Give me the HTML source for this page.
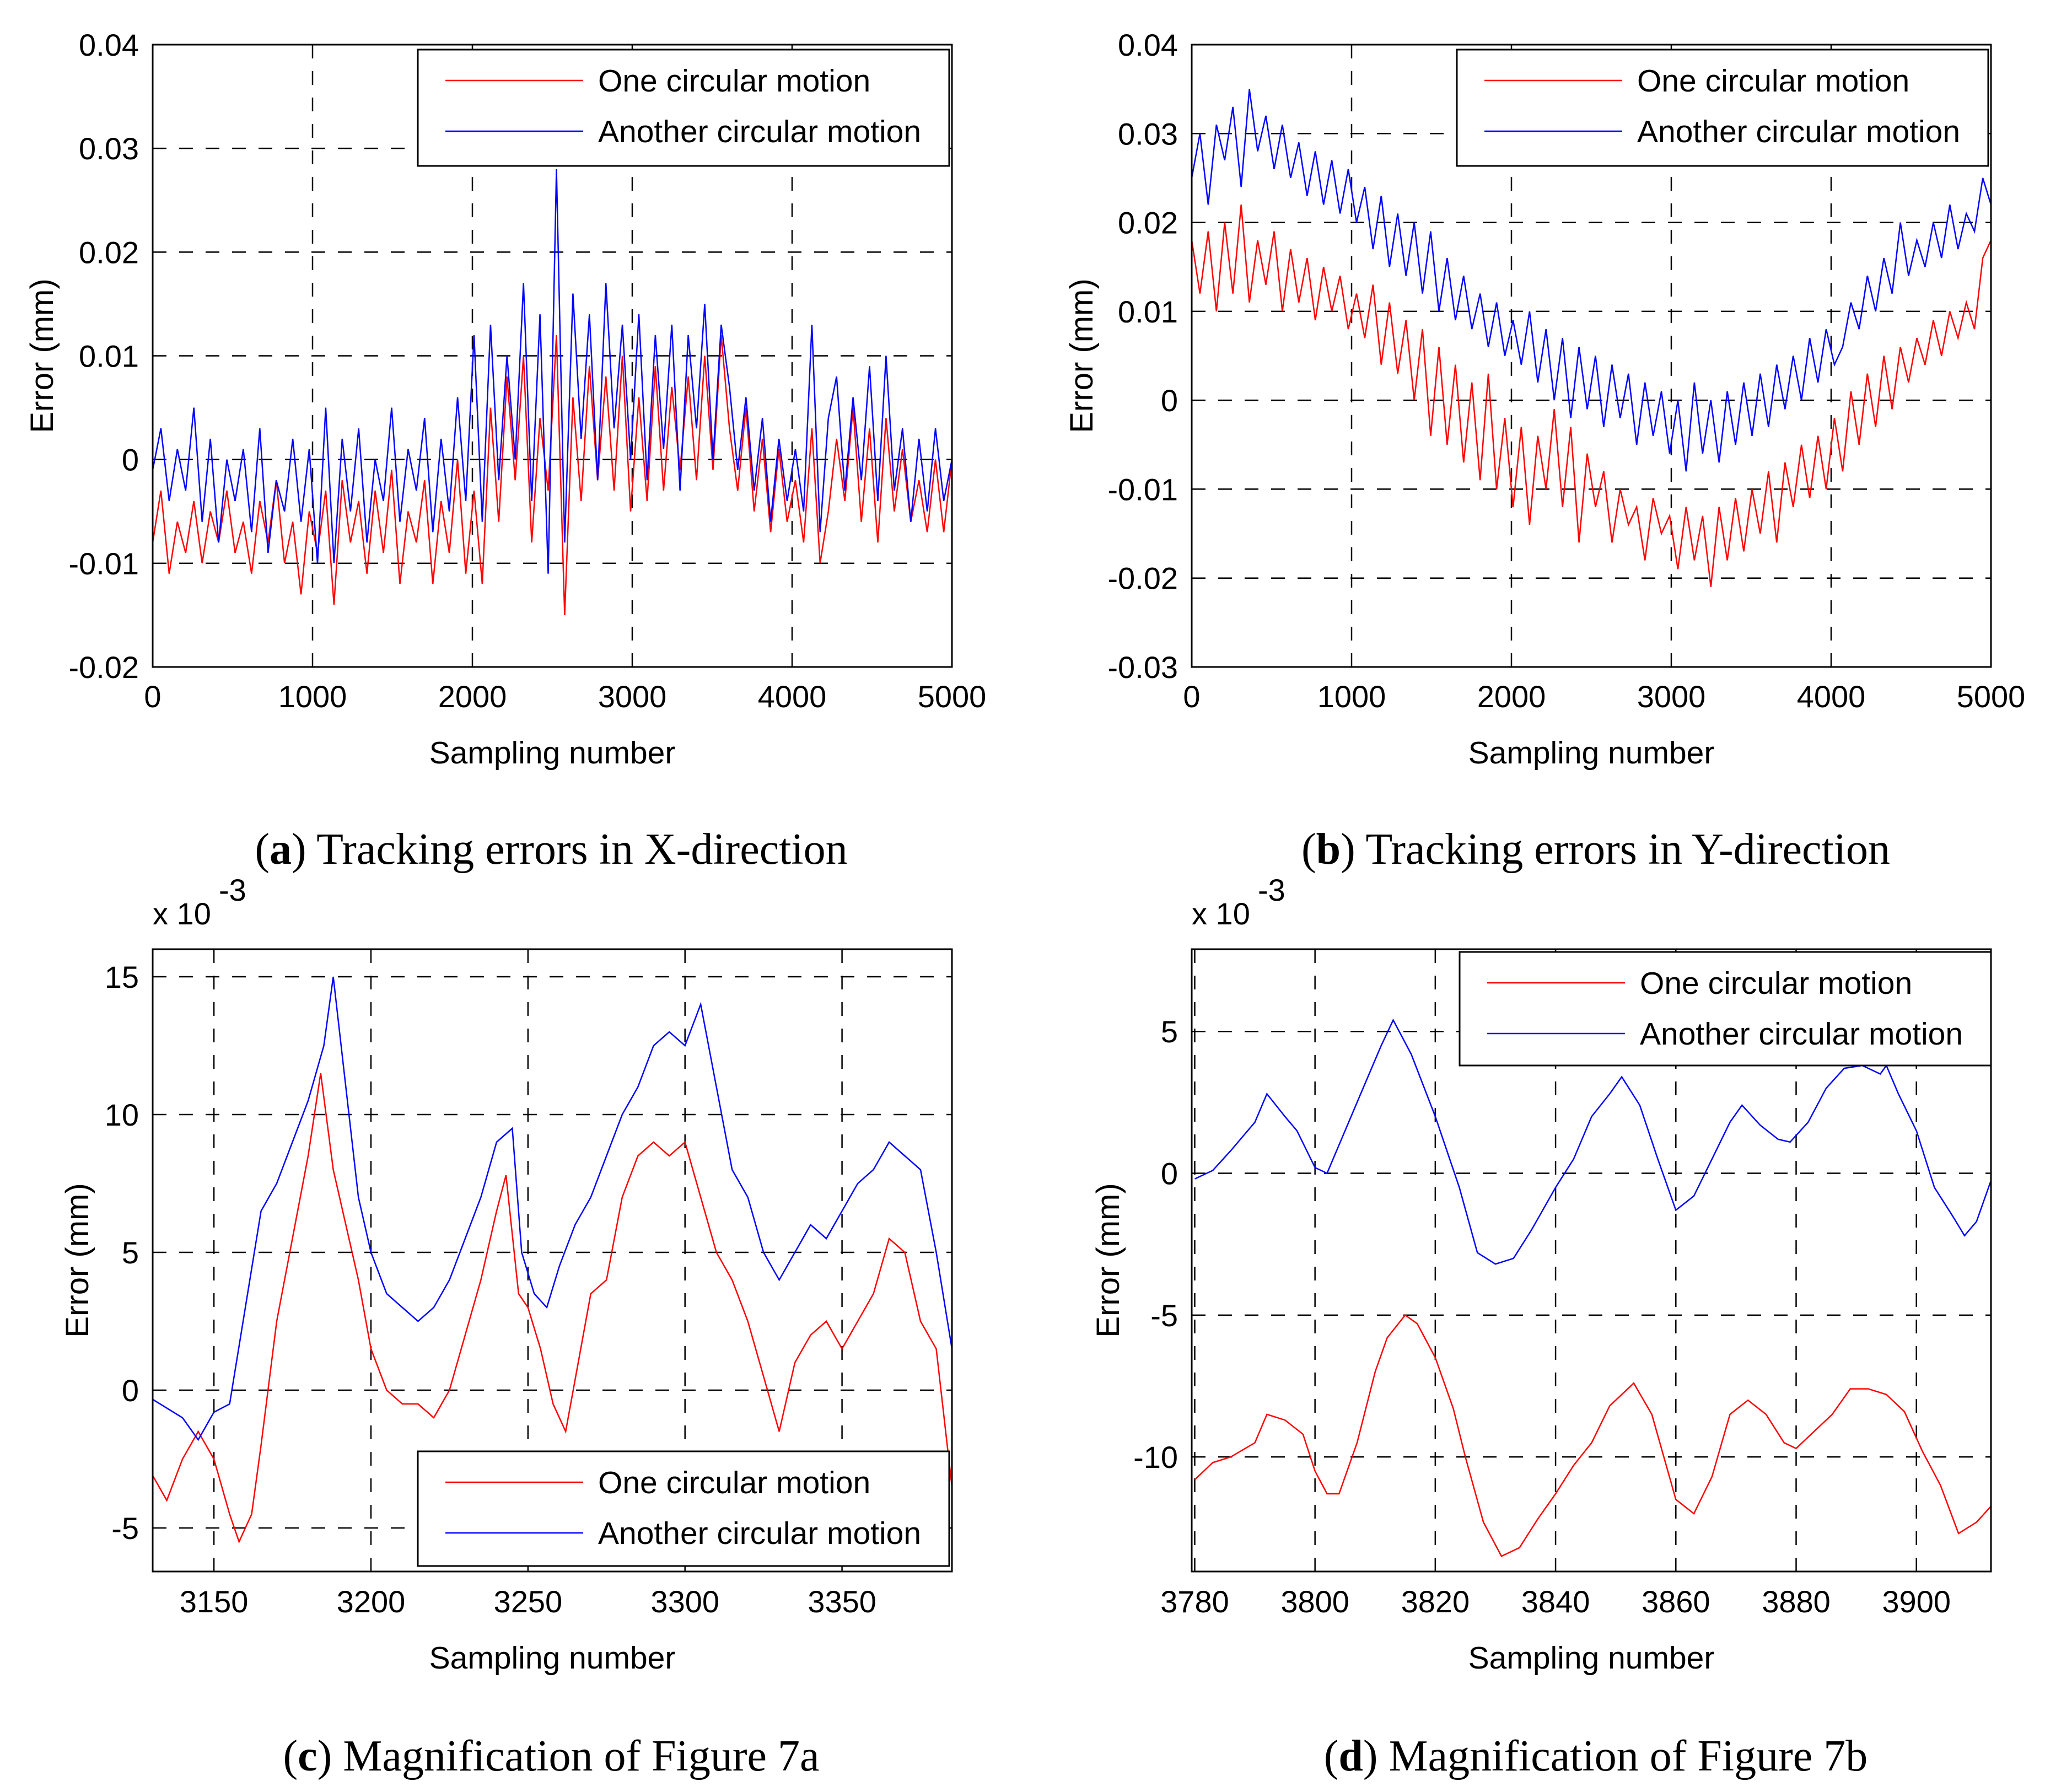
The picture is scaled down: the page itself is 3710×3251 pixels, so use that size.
<!DOCTYPE html>
<html><head><meta charset="utf-8"><style>
html,body{margin:0;padding:0;background:#fff;}
svg{display:block;}
text{font-family:"Liberation Sans",sans-serif;fill:#000;}
.cap{font-family:"Liberation Serif",serif;font-size:80px;}
</style></head><body>
<svg id="fig" width="3710" height="3251" viewBox="0 0 3710 3251" xmlns="http://www.w3.org/2000/svg">
<text class="cap" x="1000" y="1567" text-anchor="middle">(<tspan font-weight="bold">a</tspan>) Tracking errors in X-direction</text>
<text class="cap" x="2895" y="1567" text-anchor="middle">(<tspan font-weight="bold">b</tspan>) Tracking errors in Y-direction</text>
<text class="cap" x="1000" y="3212" text-anchor="middle">(<tspan font-weight="bold">c</tspan>) Magnification of Figure 7a</text>
<text class="cap" x="2895" y="3212" text-anchor="middle">(<tspan font-weight="bold">d</tspan>) Magnification of Figure 7b</text>
</svg>
<script>
// Panel a (x1e-3), evenly spaced over 0..5000
const aRed=[-8,-3,-11,-6,-9,-4,-10,-5,-8,-3,-9,-6,-11,-4,-8,-2,-10,-6,-13,-5,-9,
-3,-14,-2,-8,-4,-11,-3,-9,-1,-12,-5,-8,-2,-12,-4,-9,0,-11,-3,
-12,5,-6,8,-2,10,-8,4,-3,12,-15,6,-4,9,-2,8,-3,10,-5,6,
-4,9,-3,7,-1,8,-2,10,-1,12,3,-3,5,-5,2,-7,1,-6,-2,
-8,3,-10,-5,2,-4,5,-6,3,-8,4,-5,1,-6,-2,-7,0,-7,0];
const aBlue=[-1,3,-4,1,-3,5,-6,2,-8,0,-4,1,-7,3,-9,-2,-5,2,-6,1,-10,
5,-10,2,-5,3,-8,0,-4,5,-6,1,-3,4,-7,2,-5,6,-4,12,
-6,13,-2,10,0,17,-4,14,-11,28,-8,16,2,14,-2,17,3,13,0,14,
-2,12,1,13,-3,12,3,15,0,13,7,-1,6,-3,4,-6,2,-4,1,
-5,13,-7,4,8,-3,6,-2,9,-4,10,-3,3,-6,2,-5,3,-4,0];
// Panel b (x1e-3)
const bRed=[18,12,19,10,20,12,22,11,18,13,19,10,17,11,16,9,15,10,14,8,12,
7,13,4,11,3,9,0,8,-4,6,-5,4,-7,2,-9,3,-10,-2,-12,
-3,-14,-4,-10,-1,-12,-3,-16,-6,-12,-8,-16,-10,-14,-12,-18,-11,-15,-13,-19,
-12,-18,-13,-21,-12,-18,-11,-17,-10,-15,-8,-16,-7,-12,-5,-11,-4,-10,-2,
-8,1,-5,3,-3,5,-1,6,2,7,4,9,5,10,7,11,8,16,18];
const bBlue=[25,30,22,31,27,33,24,35,28,32,26,31,25,29,23,28,22,27,21,26,20,
24,17,23,15,21,14,20,12,19,10,16,9,14,8,12,6,11,5,9,
4,10,2,8,0,7,-2,6,-1,5,-3,4,-2,3,-5,2,-4,1,-6,0,
-8,2,-6,0,-7,1,-5,2,-4,3,-3,4,-1,5,0,7,2,8,4,
6,11,8,14,10,16,12,20,14,18,15,20,16,22,17,21,19,25,22];
// Panel c (x1e-3)
const cBlueX=[3130,3140,3145,3150,3155,3160,3165,3170,3175,3180,3185,3188,3192,3196,3200,3205,3210,3215,3220,3225,3230,3235,3240,3245,3248,3252,3256,3260,3265,3270,3275,3280,3285,3290,3295,3300,3305,3310,3315,3320,3325,3330,3335,3340,3345,3350,3355,3360,3365,3370,3375,3380,3385];
const cBlueY=[-0.3,-1,-1.8,-0.8,-0.5,3,6.5,7.5,9,10.5,12.5,15,11,7,5,3.5,3,2.5,3,4,5.5,7,9,9.5,5,3.5,3,4.5,6,7,8.5,10,11,12.5,13,12.5,14,11,8,7,5,4,5,6,5.5,6.5,7.5,8,9,8.5,8,5,1.5];
const cRedX=[3130,3135,3140,3145,3150,3155,3158,3162,3165,3170,3175,3180,3184,3188,3192,3196,3200,3205,3210,3215,3220,3225,3230,3235,3240,3243,3247,3250,3254,3258,3262,3266,3270,3275,3280,3285,3290,3295,3300,3305,3310,3315,3320,3325,3330,3335,3340,3345,3350,3355,3360,3365,3370,3375,3380,3385];
const cRedY=[-3,-4,-2.5,-1.5,-2.5,-4.5,-5.5,-4.5,-2,2.5,5.5,8.5,11.5,8,6,4,1.5,0,-0.5,-0.5,-1,0,2,4,6.5,7.8,3.5,3,1.5,-0.5,-1.5,1,3.5,4,7,8.5,9,8.5,9,7,5,4,2.5,0.5,-1.5,1,2,2.5,1.5,2.5,3.5,5.5,5,2.5,1.5,-3.5];
// Panel d (x1e-3)
const dBlueX=[3780,3783,3786,3790,3792,3795,3797,3800,3802,3805,3808,3811,3813,3816,3820,3824,3827,3830,3833,3836,3840,3843,3846,3849,3851,3854,3857,3860,3863,3866,3869,3871,3874,3877,3879,3882,3885,3888,3891,3894,3895,3897,3900,3903,3906,3908,3910,3913];
const dBlueY=[-0.2,0.1,0.8,1.8,2.8,2,1.5,0.2,0,1.5,3,4.5,5.4,4.2,2,-0.5,-2.8,-3.2,-3,-2,-0.5,0.5,2,2.8,3.4,2.4,0.5,-1.3,-0.8,0.5,1.8,2.4,1.7,1.2,1.1,1.8,3,3.7,3.8,3.5,3.8,2.8,1.5,-0.5,-1.5,-2.2,-1.7,0.1];
const dRedX=[3780,3783,3786,3790,3792,3795,3798,3800,3802,3804,3807,3810,3812,3815,3817,3820,3823,3825,3828,3831,3834,3837,3840,3843,3846,3849,3853,3856,3860,3863,3866,3869,3872,3875,3878,3880,3883,3886,3889,3892,3895,3898,3901,3904,3907,3910,3913];
const dRedY=[-10.8,-10.2,-10,-9.5,-8.5,-8.7,-9.2,-10.5,-11.3,-11.3,-9.5,-7,-5.8,-5,-5.3,-6.5,-8.3,-10,-12.3,-13.5,-13.2,-12.2,-11.3,-10.3,-9.5,-8.2,-7.4,-8.5,-11.5,-12,-10.7,-8.5,-8,-8.5,-9.5,-9.7,-9.1,-8.5,-7.6,-7.6,-7.8,-8.4,-9.8,-11,-12.7,-12.3,-11.6];
const aYTicks=["-0.02","-0.01","0","0.01","0.02","0.03","0.04"];
const bYTicks=["-0.03","-0.02","-0.01","0","0.01","0.02","0.03","0.04"];
const abXTicks=[0,1000,2000,3000,4000,5000];
const cXTicks=[3150,3200,3250,3300,3350];
const cYTicks=[-5,0,5,10,15];
const dXTicks=[3780,3800,3820,3840,3860,3880,3900];
const dYTicks=[-10,-5,0,5];

const NS="http://www.w3.org/2000/svg";
const svg=document.getElementById('fig');
function mk(tag,attrs,parent){const e=document.createElementNS(NS,tag);for(const k in attrs)e.setAttribute(k,attrs[k]);(parent||svg).appendChild(e);return e;}

function panel(p){
  const g=mk('g',{});
  
  
  const L=p.x0,R=p.x1,T=p.y0,B=p.y1;
  const sx=v=>L+(v-p.xmin)/(p.xmax-p.xmin)*(R-L);
  const sy=v=>B-(v-p.ymin)/(p.ymax-p.ymin)*(B-T);
  p.xt.forEach(v=>{
    const x=sx(v);
    const gl=mk('line',{x1:x,x2:x,y1:T,y2:B,stroke:'#000','stroke-width':2.5,'stroke-dasharray':'25 23'},g);
    
    
    const t=mk('text',{x:x,y:p.xly,'text-anchor':'middle','font-size':56},g);
    t.textContent=String(v);
    
    
  });
  p.yt.forEach(s=>{
    const v=parseFloat(s)*p.yk;
    const y=sy(v);
    const gl=mk('line',{x1:L,x2:R,y1:y,y2:y,stroke:'#000','stroke-width':2.5,'stroke-dasharray':'25 23'},g);
    
    
    const t=mk('text',{x:L-25,y:y+20,'text-anchor':'end','font-size':56},g);
    t.textContent=String(s);
    
    
  });
  const cp=mk('clipPath',{id:'clip-'+p.name},g);
  mk('rect',{x:L,y:T,width:R-L,height:B-T},cp);
  p.series.forEach(s=>{
    const pts=s.ys.map((v,i)=>{const xv=s.xs?s.xs[i]:p.xmin+i*(p.xmax-p.xmin)/(s.ys.length-1);return sx(xv).toFixed(1)+','+sy(v*s.k).toFixed(1);}).join(' ');
    const pl=mk('polyline',{points:pts,fill:'none',stroke:s.color,'stroke-width':2.5,'clip-path':'url(#clip-'+p.name+')'},g);
    
    
  });
  const fr=mk('rect',{x:L,y:T,width:R-L,height:B-T,fill:'none',stroke:'#000','stroke-width':3},g);
  
  
  const lg=mk('g',{},g);
  
  
  mk('rect',{x:p.lx,y:p.ly,width:p.lw,height:p.lh,fill:'#fff',stroke:'#000','stroke-width':3},lg);
  [['One circular motion','red'],['Another circular motion','blue']].forEach((e,i)=>{
    const yy=p.ly+56+i*92;
    const ln=mk('line',{x1:p.lx+50,x2:p.lx+300,y1:yy,y2:yy,stroke:e[1],'stroke-width':2.5},lg);
    
    
    const t=mk('text',{x:p.lx+327,y:yy+20,'font-size':57},lg);
    t.textContent=e[0];
    
    
  });
  const xl=mk('text',{x:(L+R)/2,y:p.xly+102,'text-anchor':'middle','font-size':57},g);
  xl.textContent='Sampling number';
  
  
  const yl=mk('text',{x:0,y:0,'text-anchor':'middle','font-size':58,transform:'translate('+p.ylx+','+((T+B)/2)+') rotate(-90)'},g);
  yl.textContent='Error (mm)';
  
  
  if(p.exp){
    const ex=mk('text',{x:L,y:T-45,'font-size':56},g);
    ex.textContent='x 10';
    
    
    const e3=mk('text',{x:L+120,y:T-88,'font-size':56},g);
    e3.textContent='-3';
    
    
  }
}
panel({name:'panel-a',x0:277,x1:1727,y0:81,y1:1210,xmin:0,xmax:5000,ymin:-0.02,ymax:0.04,xt:abXTicks,yt:aYTicks,yk:1,xly:1283,ylx:96,
  lx:758,ly:90,lw:964,lh:211,series:[{ys:aRed,k:1e-3,color:'red',name:'series-one-circular'},{ys:aBlue,k:1e-3,color:'blue',name:'series-another-circular'}]});
panel({name:'panel-b',x0:2162,x1:3612,y0:81,y1:1210,xmin:0,xmax:5000,ymin:-0.03,ymax:0.04,xt:abXTicks,yt:bYTicks,yk:1,xly:1283,ylx:1982,
  lx:2643,ly:90,lw:964,lh:211,series:[{ys:bRed,k:1e-3,color:'red',name:'series-one-circular'},{ys:bBlue,k:1e-3,color:'blue',name:'series-another-circular'}]});
panel({name:'panel-c',x0:277,x1:1727,y0:1722,y1:2851,xmin:3130.5,xmax:3385,ymin:-6.58,ymax:16,xt:cXTicks,yt:cYTicks.map(String),yk:1,xly:2925,ylx:160,exp:true,
  lx:758,ly:2633,lw:964,lh:208,series:[{xs:cRedX,ys:cRedY,k:1,color:'red',name:'series-one-circular'},{xs:cBlueX,ys:cBlueY,k:1,color:'blue',name:'series-another-circular'}]});
panel({name:'panel-d',x0:2162,x1:3612,y0:1722,y1:2851,xmin:3779.5,xmax:3912.4,ymin:-14.04,ymax:7.9,xt:dXTicks,yt:dYTicks.map(String),yk:1,xly:2925,ylx:2030,exp:true,
  lx:2648,ly:1727,lw:964,lh:206,series:[{xs:dRedX,ys:dRedY,k:1,color:'red',name:'series-one-circular'},{xs:dBlueX,ys:dBlueY,k:1,color:'blue',name:'series-another-circular'}]});
</script>
</body></html>
